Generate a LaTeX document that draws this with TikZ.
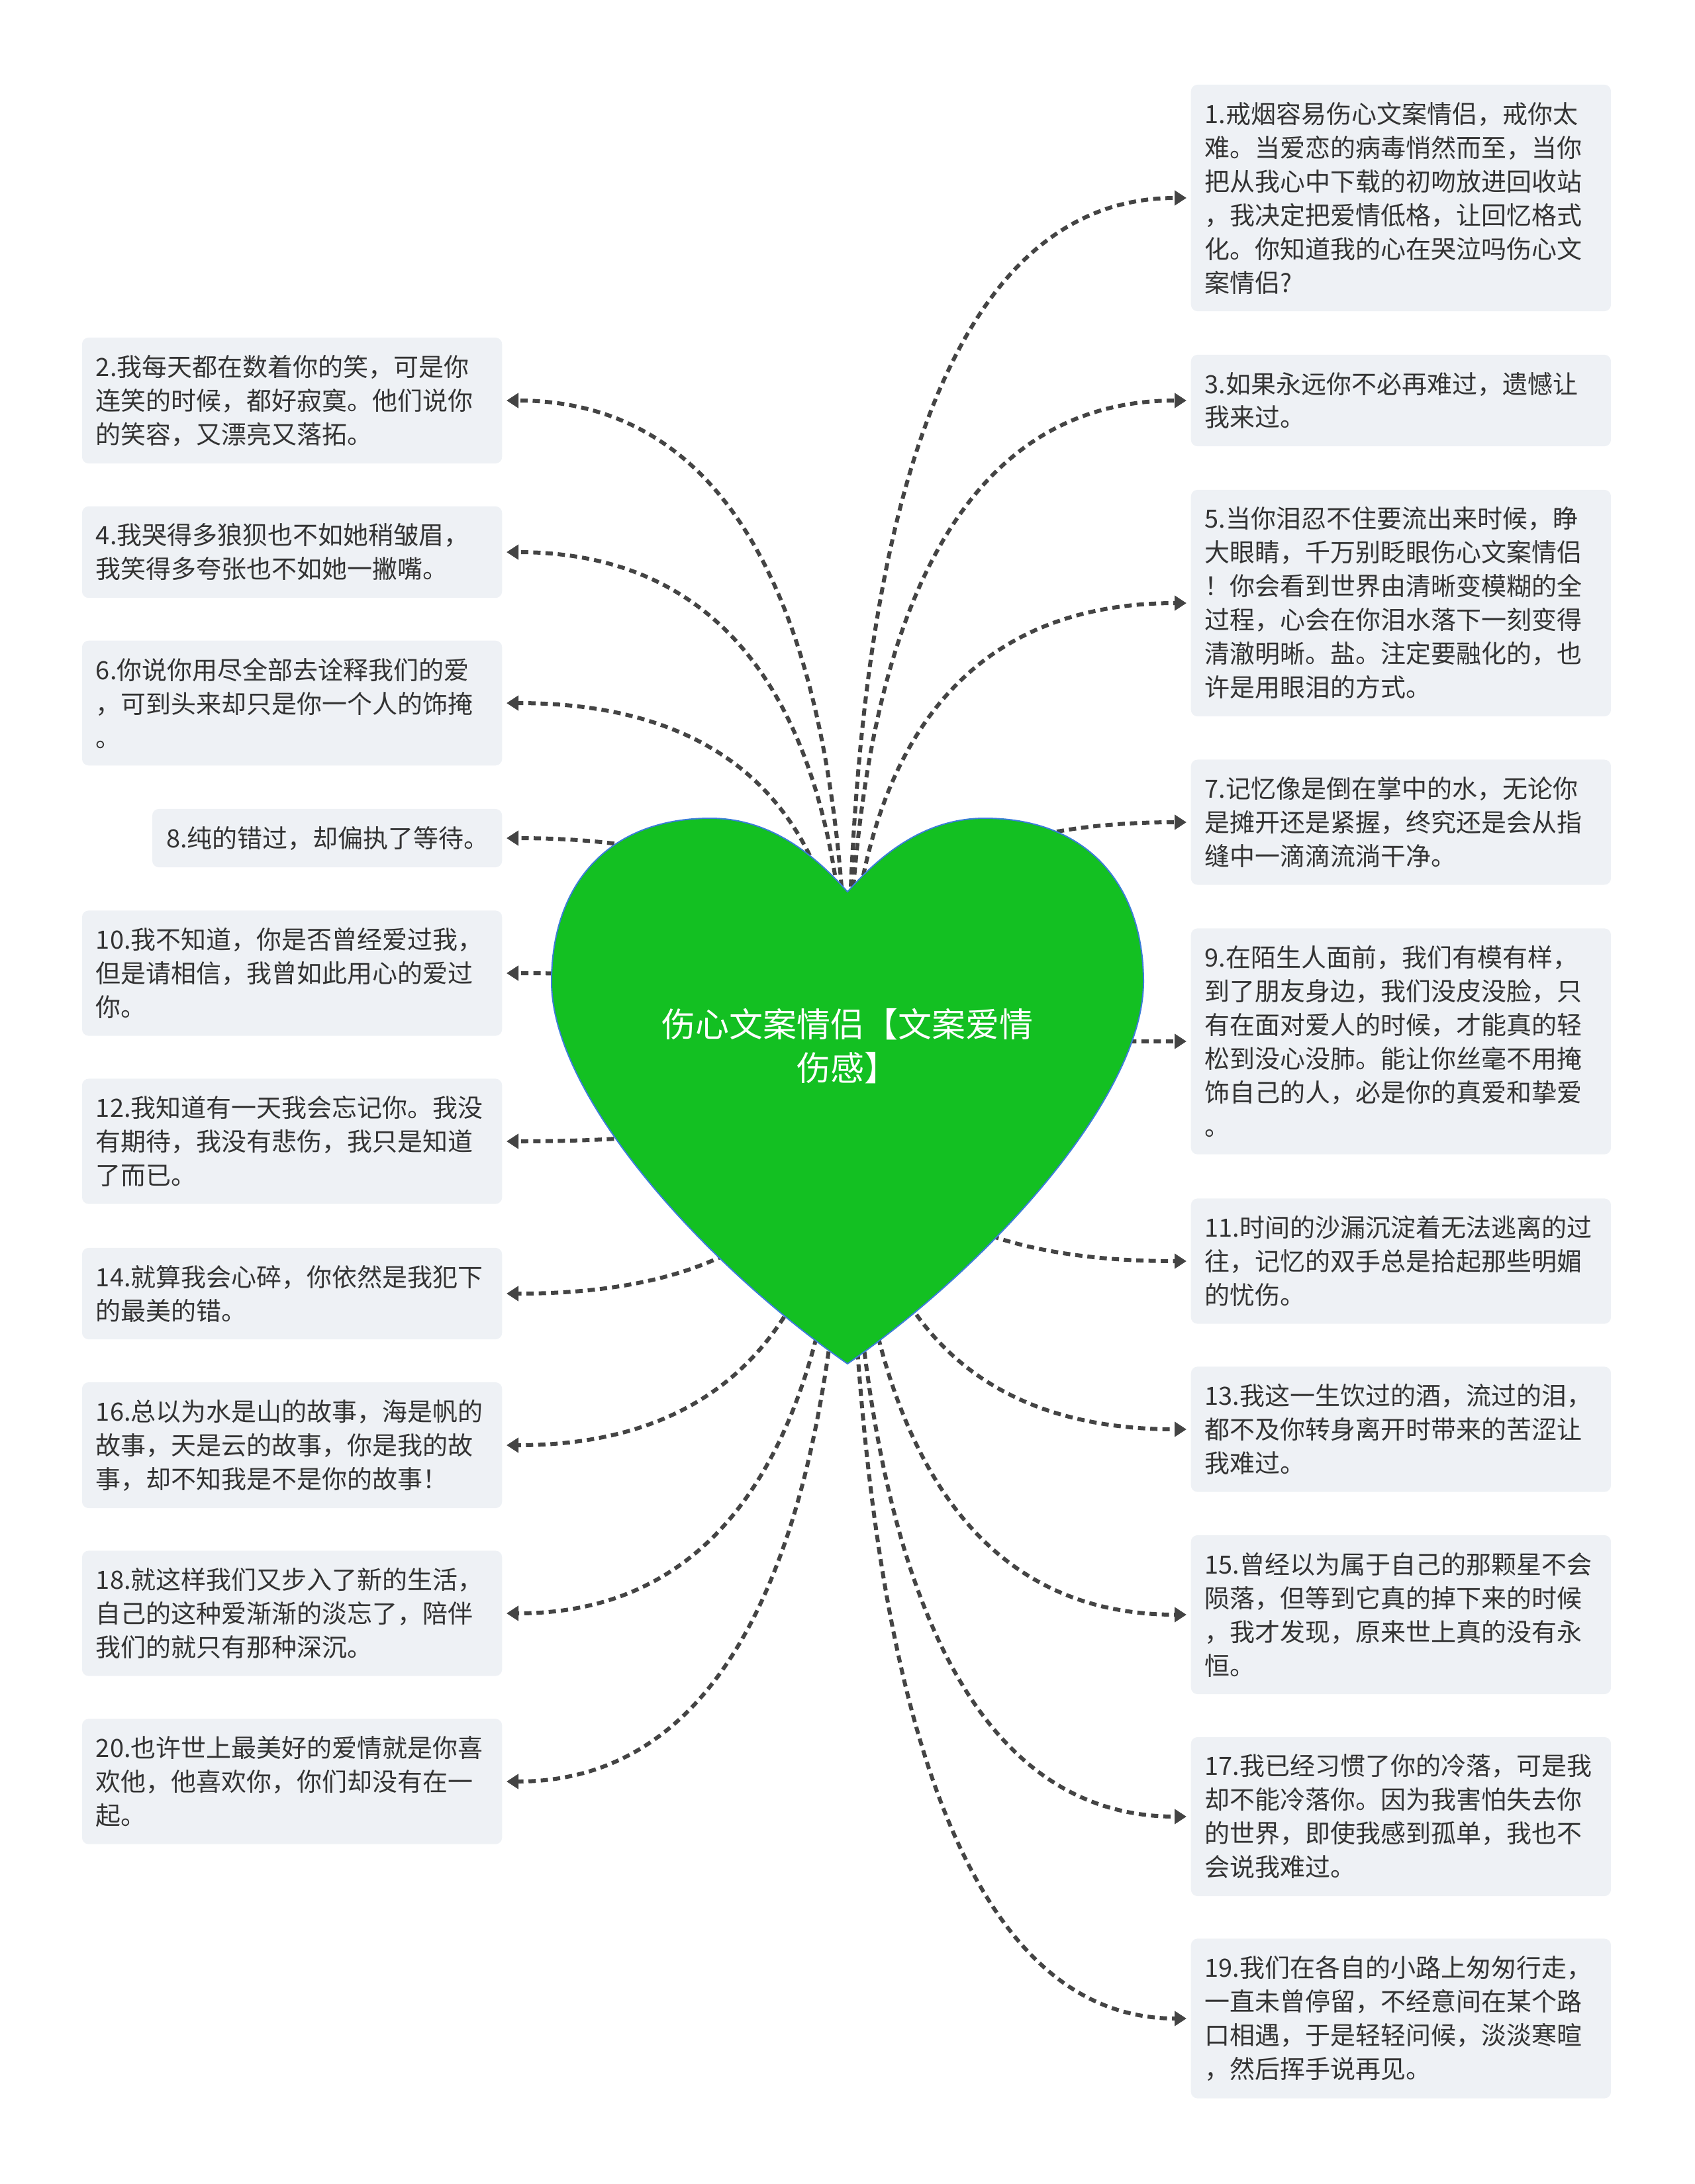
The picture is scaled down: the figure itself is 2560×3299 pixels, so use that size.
\documentclass[tikz,border=0pt]{standalone}
\usepackage{fontspec}
\setmainfont{Noto Sans CJK SC}
\usepackage{tikz}
\usetikzlibrary{arrows.meta,calc}

\definecolor{leafgray}{HTML}{EEF1F5}
\definecolor{inkdark}{HTML}{333333}
\definecolor{linkgray}{HTML}{444444}
\definecolor{heartgreen}{HTML}{13C022}
\definecolor{heartrim}{HTML}{3B7DD8}

\tikzset{
  leaf/.style={fill=leafgray, rounded corners=0.1cm, inner xsep=0.21cm, inner ysep=0.26cm,
    text width=5.92cm, align=left, text=inkdark, font=\fontsize{10.8pt}{14.5pt}\selectfont},
  link/.style={draw=linkgray, line width=0.06cm, dash pattern=on 0.11cm off 0.075cm,
    -{Triangle[length=0.18cm,width=0.22cm]}, shorten >=0.06cm}
}

\begin{document}
\begin{tikzpicture}[x=0.01cm,y=-0.01cm]
\useasboundingbox (0,0) rectangle (2560,3299);

% right column
\node[leaf, anchor=west] (b1) at (1798,299) {1.戒烟容易伤心文案情侣，戒你太\\难。当爱恋的病毒悄然而至，当你\\把从我心中下载的初吻放进回收站\\，我决定把爱情低格，让回忆格式\\化。你知道我的心在哭泣吗伤心文\\案情侣?};
\node[leaf, anchor=west] (b3) at (1798,605) {3.如果永远你不必再难过，遗憾让\\我来过。};
\node[leaf, anchor=west] (b5) at (1798,911) {5.当你泪忍不住要流出来时候，睁\\大眼睛，千万别眨眼伤心文案情侣\\！你会看到世界由清晰变模糊的全\\过程，心会在你泪水落下一刻变得\\清澈明晰。盐。注定要融化的，也\\许是用眼泪的方式。};
\node[leaf, anchor=west] (b7) at (1798,1242) {7.记忆像是倒在掌中的水，无论你\\是摊开还是紧握，终究还是会从指\\缝中一滴滴流淌干净。};
\node[leaf, anchor=west] (b9) at (1798,1573) {9.在陌生人面前，我们有模有样，\\到了朋友身边，我们没皮没脸，只\\有在面对爱人的时候，才能真的轻\\松到没心没肺。能让你丝毫不用掩\\饰自己的人，必是你的真爱和挚爱\\。};
\node[leaf, anchor=west] (b11) at (1798,1905) {11.时间的沙漏沉淀着无法逃离的过\\往，记忆的双手总是拾起那些明媚\\的忧伤。};
\node[leaf, anchor=west] (b13) at (1798,2159) {13.我这一生饮过的酒，流过的泪，\\都不及你转身离开时带来的苦涩让\\我难过。};
\node[leaf, anchor=west] (b15) at (1798,2439) {15.曾经以为属于自己的那颗星不会\\陨落，但等到它真的掉下来的时候\\，我才发现，原来世上真的没有永\\恒。};
\node[leaf, anchor=west] (b17) at (1798,2744) {17.我已经习惯了你的冷落，可是我\\却不能冷落你。因为我害怕失去你\\的世界，即使我感到孤单，我也不\\会说我难过。};
\node[leaf, anchor=west] (b19) at (1798,3049) {19.我们在各自的小路上匆匆行走，\\一直未曾停留，不经意间在某个路\\口相遇，于是轻轻问候，淡淡寒暄\\，然后挥手说再见。};

% left column
\node[leaf, anchor=east] (b2) at (759,605) {2.我每天都在数着你的笑，可是你\\连笑的时候，都好寂寞。他们说你\\的笑容，又漂亮又落拓。};
\node[leaf, anchor=east] (b4) at (759,834) {4.我哭得多狼狈也不如她稍皱眉，\\我笑得多夸张也不如她一撇嘴。};
\node[leaf, anchor=east] (b6) at (759,1062) {6.你说你用尽全部去诠释我们的爱\\，可到头来却只是你一个人的饰掩\\。};
\node[leaf, anchor=east, text width=4.86cm] (b8) at (759,1266) {8.纯的错过，却偏执了等待。};
\node[leaf, anchor=east] (b10) at (759,1470) {10.我不知道，你是否曾经爱过我，\\但是请相信，我曾如此用心的爱过\\你。};
\node[leaf, anchor=east] (b12) at (759,1724) {12.我知道有一天我会忘记你。我没\\有期待，我没有悲伤，我只是知道\\了而已。};
\node[leaf, anchor=east] (b14) at (759,1954) {14.就算我会心碎，你依然是我犯下\\的最美的错。};
\node[leaf, anchor=east] (b16) at (759,2183) {16.总以为水是山的故事，海是帆的\\故事，天是云的故事，你是我的故\\事，却不知我是不是你的故事！};
\node[leaf, anchor=east] (b18) at (759,2437) {18.就这样我们又步入了新的生活，\\自己的这种爱渐渐的淡忘了，陪伴\\我们的就只有那种深沉。};
\node[leaf, anchor=east] (b20) at (759,2691) {20.也许世上最美好的爱情就是你喜\\欢他，他喜欢你，你们却没有在一\\起。};

\coordinate (root) at (1280,1580);

% connectors, hidden behind the heart
\foreach \b in {b1,b3,b5,b7,b9,b11,b13,b15,b17,b19} {
  \coordinate (knee) at (root |- \b.west);
  \draw[link] (root) .. controls ($(root)!0.667!(knee)$) and ($(\b.west)!0.667!(knee)$) .. (\b.west);
}
\foreach \b in {b2,b4,b6,b8,b10,b12,b14,b16,b18,b20} {
  \coordinate (knee) at (root |- \b.east);
  \draw[link] (root) .. controls ($(root)!0.667!(knee)$) and ($(\b.east)!0.667!(knee)$) .. (\b.east);
}

% heart
\draw[fill=heartgreen, draw=heartrim, line width=0.02cm] (1280,1347)
  .. controls (1235,1297) and (1168,1236) .. (1073,1236)
  .. controls (915,1236) and (833,1340) .. (833,1483)
  .. controls (833,1653) and (1059,1906) .. (1280,2060)
  .. controls (1501,1906) and (1727,1653) .. (1727,1483)
  .. controls (1727,1340) and (1645,1236) .. (1487,1236)
  .. controls (1392,1236) and (1325,1297) .. (1280,1347) -- cycle;
\node[text=white, align=center, font=\fontsize{14.5pt}{19pt}\selectfont] (hub) at (root) {伤心文案情侣【文案爱情\\伤感】};
\end{tikzpicture}
\end{document}
